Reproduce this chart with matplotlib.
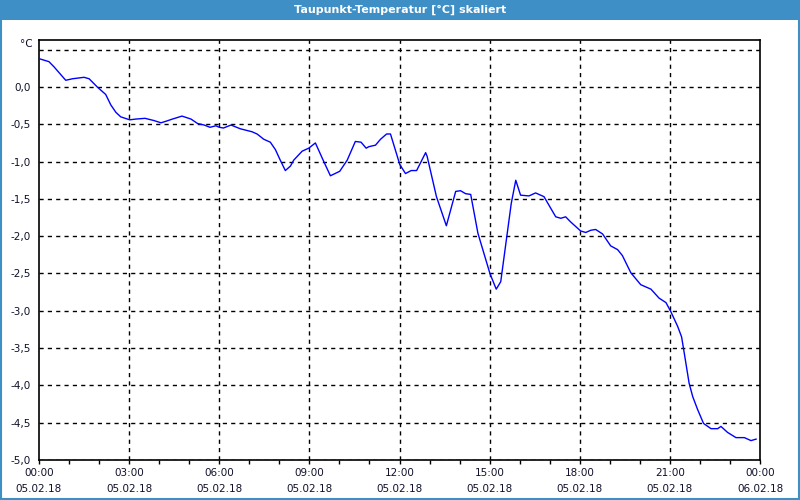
import matplotlib
matplotlib.use("Agg")
import matplotlib.pyplot as plt
from matplotlib.patches import Rectangle
from matplotlib.ticker import FixedLocator, MultipleLocator

title = "Taupunkt-Temperatur [°C] skaliert"
unit = "°C"

# time in hours since 05.02.18 00:00
hours = [0.0, 0.33, 0.5, 0.89, 1.11, 1.5, 1.67, 1.94, 2.22, 2.39, 2.56, 2.72,
         3.02, 3.22, 3.53, 3.83, 4.06, 4.22, 4.44, 4.76, 5.06, 5.28, 5.5, 5.69,
         5.89, 6.0, 6.14, 6.39, 6.7, 7.09, 7.26, 7.48, 7.7, 7.87, 8.03, 8.2,
         8.37, 8.48, 8.76, 8.98, 9.2, 9.48, 9.7, 10.01, 10.26, 10.53, 10.72,
         10.89, 10.98, 11.2, 11.37, 11.57, 11.7, 12.01, 12.2, 12.39, 12.57,
         12.87, 12.92, 13.23, 13.56, 13.87, 14.03, 14.2, 14.37, 14.61, 14.81,
         15.01, 15.22, 15.37, 15.57, 15.72, 15.87, 16.03, 16.31, 16.53, 16.81,
         17.2, 17.37, 17.53, 17.7, 18.03, 18.2, 18.37, 18.53, 18.76, 19.03,
         19.26, 19.42, 19.7, 20.03, 20.37, 20.64, 20.87, 21.03, 21.26, 21.39,
         21.48, 21.64, 21.76, 21.92, 22.12, 22.37, 22.59, 22.7, 22.92, 23.2,
         23.48, 23.7, 23.87]
values = [0.38, 0.34, 0.27, 0.09, 0.11, 0.13, 0.11, 0.0, -0.10, -0.24, -0.34,
          -0.40, -0.44, -0.43, -0.42, -0.45, -0.48, -0.46, -0.43, -0.39, -0.43,
          -0.49, -0.51, -0.54, -0.52, -0.54, -0.55, -0.51, -0.56, -0.60, -0.63,
          -0.70, -0.74, -0.84, -0.98, -1.12, -1.06, -0.98, -0.86, -0.82, -0.75,
          -1.00, -1.19, -1.13, -0.98, -0.73, -0.74, -0.82, -0.80, -0.78, -0.70,
          -0.63, -0.63, -1.04, -1.16, -1.12, -1.12, -0.88, -0.93, -1.47, -1.86,
          -1.40, -1.39, -1.43, -1.44, -1.96, -2.23, -2.50, -2.71, -2.61, -2.01,
          -1.56, -1.25, -1.45, -1.46, -1.42, -1.47, -1.74, -1.76, -1.74, -1.81,
          -1.93, -1.95, -1.92, -1.91, -1.97, -2.13, -2.18, -2.26, -2.49, -2.65,
          -2.71, -2.83, -2.89, -3.01, -3.21, -3.35, -3.57, -3.97, -4.15, -4.32,
          -4.51, -4.58, -4.58, -4.55, -4.63, -4.70, -4.70, -4.74, -4.72]

xtick_hours = [0, 3, 6, 9, 12, 15, 18, 21, 24]
xtick_labels = ["00:00\n05.02.18", "03:00\n05.02.18", "06:00\n05.02.18",
                "09:00\n05.02.18", "12:00\n05.02.18", "15:00\n05.02.18",
                "18:00\n05.02.18", "21:00\n05.02.18", "00:00\n06.02.18"]
ytick_values = [0.0, -0.5, -1.0, -1.5, -2.0, -2.5, -3.0, -3.5, -4.0, -4.5, -5.0]
ytick_labels = ["0,0", "-0,5", "-1,0", "-1,5", "-2,0", "-2,5", "-3,0", "-3,5",
                "-4,0", "-4,5", "-5,0"]
grid_y = [0.5] + ytick_values

bar_color = "#3d8fc6"
text_color = "#10102a"

fig = plt.figure(figsize=(8, 5), dpi=100)
fig.patch.set_facecolor("white")

# title bar and border
fig.patches.append(Rectangle((0, 0.96), 1, 0.04, transform=fig.transFigure,
                             facecolor=bar_color, edgecolor="none", zorder=0))
fig.patches.append(Rectangle((0.001, 0.002), 0.998, 0.996, transform=fig.transFigure,
                             facecolor="none", edgecolor=bar_color, linewidth=1.5, zorder=5))
fig.text(0.5, 0.981, title, color="white", fontsize=8, fontweight="semibold",
         ha="center", va="center", family="DejaVu Sans")

ax = fig.add_axes([0.04875, 0.08, 0.90125, 0.84])
ax.set_xlim(0, 24)
ax.set_ylim(-5.0, 0.63)

for gy in grid_y:
    ax.axhline(gy, color="black", linewidth=1.0, linestyle=(0, (3, 3)), zorder=1)
for gx in xtick_hours[1:-1]:
    ax.axvline(gx, color="black", linewidth=1.0, linestyle=(0, (3, 3)), zorder=1)

ax.plot(hours, values, color="#0000ff", linewidth=1.0, zorder=3)

ax.xaxis.set_major_locator(FixedLocator(xtick_hours))
ax.set_xticklabels(xtick_labels)
ax.xaxis.set_minor_locator(MultipleLocator(1))
ax.set_yticks(ytick_values)
ax.set_yticklabels(ytick_labels)

ax.tick_params(axis="x", which="both", direction="out", length=3, width=1,
               colors="black", labelcolor=text_color, labelsize=7.5, pad=3)
ax.tick_params(axis="y", which="both", length=0, labelcolor=text_color,
               labelsize=7.5, pad=6)
for lab in ax.get_xticklabels():
    lab.set_linespacing(1.75)

for sp in ax.spines.values():
    sp.set_color("black")
    sp.set_linewidth(1.2)

fig.text(0.041, 0.912, unit, color=text_color, fontsize=7.5, ha="right", va="center")

fig.savefig("out.png", dpi=100)
